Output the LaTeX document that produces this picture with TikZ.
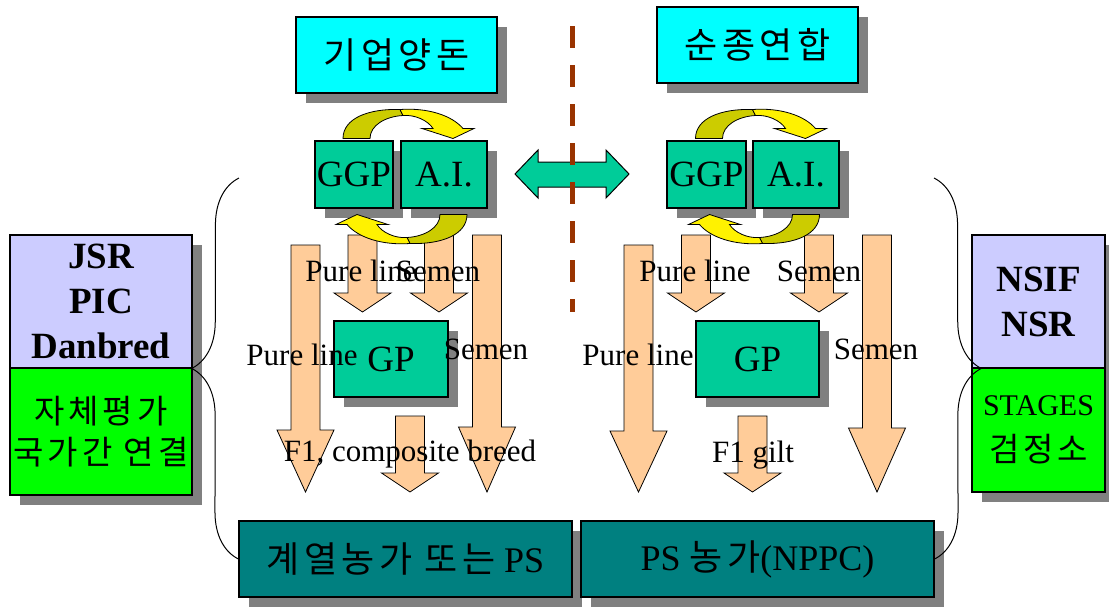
\documentclass[tikz,border=0pt]{standalone}
\usepackage{fontspec}
\setmainfont{Liberation Serif}
\newfontfamily\kr[LetterSpace=12]{Noto Sans CJK KR}
\usepackage{tikz}
\usetikzlibrary{shapes,arrows,positioning,shadows,calc,decorations.pathreplacing}

\definecolor{titlecyan}{HTML}{00FFFF}
\definecolor{boxgreen}{HTML}{00CC99}
\definecolor{farmteal}{HTML}{008080}
\definecolor{lavender}{HTML}{CCCCFF}
\definecolor{testgreen}{HTML}{00FF00}
\definecolor{peach}{HTML}{FFCC99}
\definecolor{rust}{HTML}{993300}
\definecolor{olivey}{HTML}{CCCC00}
\definecolor{shade}{HTML}{808080}

% block arrow: x of shaft, top, start of head, tip
\newcommand\fatarrow[4]{%
  \filldraw[peach arrow] (#1-14.5,#2) -- (#1+14.5,#2) -- (#1+14.5,#3) -- (#1+28.5,#3)
    -- (#1,#4) -- (#1-28.5,#3) -- (#1-14.5,#3) -- cycle;}

\begin{document}
\begin{tikzpicture}[x=1pt,y=-1pt]
        % Setup the styles
        \tikzset{box/.style={draw, line width=1.2pt, inner sep=0pt,
                             drop shadow={shadow xshift=10pt, shadow yshift=-10pt,
                                          fill=shade, opacity=1}},
                 stock box/.style={box, fill=boxgreen, minimum height=67pt,
                                   font=\fontsize{37}{40}\selectfont},
                 title box/.style={box, fill=titlecyan, minimum width=201pt, minimum height=76pt,
                                   font=\kr\fontsize{36}{40}\selectfont},
                 org box/.style={box, fill=lavender, align=center,
                                 font=\bfseries\fontsize{37}{45}\selectfont},
                 test box/.style={box, fill=testgreen, align=center},
                 farm box/.style={box, fill=farmteal, minimum height=76pt,
                                  font=\fontsize{36}{40}\selectfont},
                 flow text/.style={anchor=base, inner sep=0pt,
                                   font=\fontsize{31}{36}\selectfont},
                 peach arrow/.style={draw, fill=peach, line width=0.8pt},
                 brace line/.style={decorate, decoration={brace, amplitude=47pt},
                                    line width=1pt},
                 cycle arrow/.pic={
                   \filldraw[fill=olivey, line width=0.8pt]
                     (-62,-38) .. controls (-62,-58) and (-37,-68) .. (-5,-67)
                     -- (-2,-61) .. controls (-20,-60) and (-35,-51) .. (-35,-38) -- cycle;
                   \filldraw[fill=yellow, line width=0.8pt]
                     (-5,-67) .. controls (23,-69) and (47,-61) .. (58,-48)
                     -- (69,-48) -- (48,-38) -- (17,-48) -- (28,-48)
                     .. controls (23,-56) and (10,-62) .. (-2,-61) -- cycle;}}

        \useasboundingbox (0,0) rectangle (1109,606);

        % Top boxes
        \node[title box] (ydon)  at (396.5,55) {기업양돈};
        \node[title box] (sjong) at (757.5,45) {순종연합};

        % Breeding stock
        \node[stock box, minimum width=78pt] (ggpL) at (354,174.5)   {GGP};
        \node[stock box, minimum width=86pt] (aiL)  at (444,174.5)   {A.I.};
        \node[stock box, minimum width=79pt] (ggpR) at (706.5,174.5) {GGP};
        \node[stock box, minimum width=86pt] (aiR)  at (796,174.5)   {A.I.};

        % Exchange between both sides
        \filldraw[fill=boxgreen, line width=1pt]
            (515,174) -- (538,150) -- (538,162) -- (606,162) -- (606,150) -- (629,174)
            -- (606,198) -- (606,187) -- (538,187) -- (538,198) -- cycle;
        \draw[rust, line width=5pt, dash pattern=on 22pt off 17pt] (572,26) -- (572,312);

        % Flow arrows
        \foreach \ax/\ay/\ahd/\atip in {305.5/245/430/492, 362.5/235/293/312,
                                         439/235/293/312, 487/235/427/492,
                                         410/416/473/492, 638.5/245/431/492,
                                         696/235/293/312, 819/235/293/312,
                                         877/235/428/492, 752.5/416/473/492}
            \fatarrow{\ax}{\ay}{\ahd}{\atip};

        \node[stock box, minimum width=114pt, minimum height=76pt] (gpL) at (391,359)   {GP};
        \node[stock box, minimum width=123pt, minimum height=76pt] (gpR) at (757.5,359) {GP};

        % Cycles between GGP and A.I.
        \pic at ($(ggpL.east)!.5!(aiL.west)+(8,2)$) {cycle arrow};
        \pic[rotate=180] at ($(ggpL.east)!.5!(aiL.west)+(8,2)$) {cycle arrow};
        \pic at ($(ggpR.east)!.5!(aiR.west)+(8,2)$) {cycle arrow};
        \pic[rotate=180] at ($(ggpR.east)!.5!(aiR.west)+(8,2)$) {cycle arrow};

        % Side boxes
        \node[org box, minimum width=182pt, minimum height=133pt] (orgL) at (101,301.5)
            {JSR\\PIC\\Danbred};
        \node[test box, minimum width=182pt, minimum height=127pt,
              font=\kr\fontsize{33}{41}\selectfont] (testL) at (101,431.5)
            {자체평가\\국가간 연결};
        \node[org box, minimum width=133pt, minimum height=133pt] (orgR) at (1038.5,301.5)
            {NSIF\\NSR};
        \node[test box, minimum width=133pt, minimum height=124pt,
              font=\fontsize{33}{46}\selectfont] (testR) at (1038.5,430)
            {{\fontsize{30}{46}\selectfont STAGES}\\{\kr 검정소}};

        % Farms
        \node[farm box, minimum width=333pt] (psL) at (405.5,559) {{\kr 계열농가 또는} PS};
        \node[farm box, minimum width=353pt] (psR) at (757.5,559) {PS {\kr 농가}(NPPC)};

        % Braces
        \coordinate (braceL) at (239,178);
        \coordinate (braceR) at (934,178);
        \draw[brace line] (psL.west) -- (braceL);
        \draw[brace line] (braceR) -- (psR.east);

        % Labels on the flows
        \node[flow text] (plL1) at (361,281)   {Pure line};
        \node[flow text] (smL1) at (438,281)   {Semen};
        \node[flow text] (plL2) at (302,365)   {Pure line};
        \node[flow text] (smL2) at (486,359)   {Semen};
        \node[flow text] (f1L)  at (410,461)   {F1, composite breed};
        \node[flow text] (plR1) at (695,281)   {Pure line};
        \node[flow text] (smR1) at (819,281)   {Semen};
        \node[flow text] (plR2) at (638,365)   {Pure line};
        \node[flow text] (smR2) at (876,359)   {Semen};
        \node[flow text] (f1R)  at (753,462)   {F1 gilt};
\end{tikzpicture}
\end{document}
